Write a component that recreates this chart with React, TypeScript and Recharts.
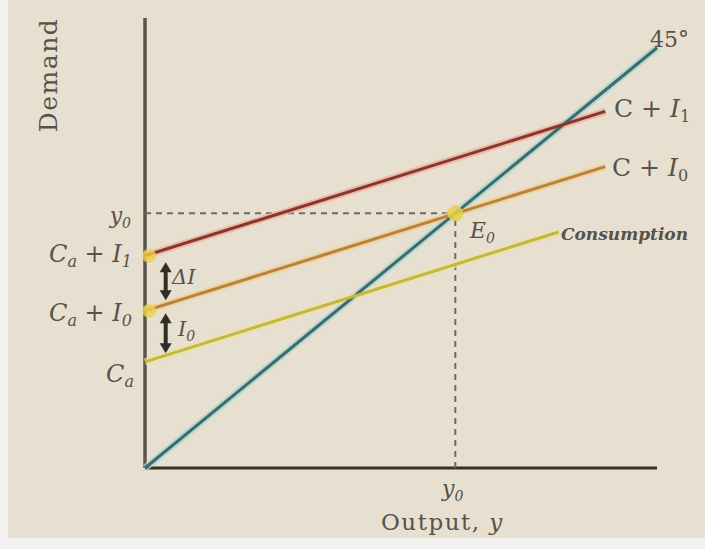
import { LineChart, Line, XAxis, YAxis, ReferenceLine, ReferenceDot } from "recharts"

// axis ranges (output on x, demand on y)
const xMax = 99
const yMax = 106

// 45° line: demand equals output
const diagonal = [
  { x: 0, y: 0 },
  { x: 99, y: 99 },
]

// aggregate demand after the rise in investment, C + I1
const demandHigh = [
  { x: 0, y: 50 },
  { x: 89, y: 84 },
]

// aggregate demand before, C + I0
const demandBase = [
  { x: 0, y: 37 },
  { x: 89, y: 71 },
]

// consumption alone
const consumption = [
  { x: 0, y: 25 },
  { x: 80, y: 55.6 },
]

// equilibrium E0 and the two intercept points
const equilibrium = { x: 60, y: 60 }
const intercepts = [50, 37]

// the two vertical gaps marked between the lines
const gapDeltaI = [
  { x: 4, y: 48 },
  { x: 4, y: 40 },
]
const gapI0 = [
  { x: 4, y: 36 },
  { x: 4, y: 27.5 },
]

const W = 705
const H = 549
const serif = "'DejaVu Serif', 'Liberation Serif', serif"
const ink = "#57524a"

const Arrow = (p: any) => {
  const { x1, y1, x2, y2 } = p
  const h = 6
  return (
    <g>
      <line x1={x1} y1={y1 + 3} x2={x2} y2={y2 - 3} stroke="#2f2d28" strokeWidth={4} />
      <polygon points={`${x1 - h},${y1 + h + 2} ${x1 + h},${y1 + h + 2} ${x1},${y1 - 2}`} fill="#2f2d28" />
      <polygon points={`${x2 - h},${y2 - h - 2} ${x2 + h},${y2 - h - 2} ${x2},${y2 + 2}`} fill="#2f2d28" />
    </g>
  )
}

export default function App() {
  const lines = [
    { key: "diag", data: diagonal, color: "#3d6a6c", halo: "#9fd6d2" },
    { key: "cons", data: consumption, color: "#c4b545", halo: "#efe39a" },
    { key: "base", data: demandBase, color: "#b8823c", halo: "#f0cf8c" },
    { key: "high", data: demandHigh, color: "#86392a", halo: "#f0a898" },
  ]
  return (
    <div style={{ position: "fixed", left: 0, top: 0, width: W, height: H, background: "#f4f2f0" }}>
      <div style={{ position: "absolute", left: 8, top: 0, width: W - 8, height: 538, background: "#e7dfcf" }} />
      <div style={{ position: "absolute", left: 0, top: 0 }}>
        <LineChart width={W} height={H} margin={{ top: 18, right: 48, bottom: 81, left: 145 }}>
          <XAxis type="number" dataKey="x" domain={[0, xMax]} hide />
          <YAxis type="number" dataKey="y" domain={[0, yMax]} hide />
          {/* axes drawn as reference lines so they sit right on the plot edges */}
          <ReferenceLine
            segment={[{ x: 0, y: 0 }, { x: xMax, y: 0 }]}
            stroke="#35322c"
            strokeWidth={3}
            ifOverflow="visible"
          />
          <ReferenceLine
            segment={[{ x: 0, y: 0 }, { x: 0, y: yMax }]}
            stroke="#5a564e"
            strokeWidth={3.5}
            ifOverflow="visible"
          />
          <ReferenceLine
            segment={[{ x: 0, y: equilibrium.y }, { x: equilibrium.x, y: equilibrium.y }]}
            stroke="#6f6a62"
            strokeWidth={2}
            strokeDasharray="6 5"
          />
          <ReferenceLine
            segment={[{ x: equilibrium.x, y: 0 }, { x: equilibrium.x, y: equilibrium.y }]}
            stroke="#6f6a62"
            strokeWidth={2}
            strokeDasharray="6 5"
          />
          {lines.map((l) => (
            <Line
              key={l.key + "-halo"}
              data={l.data}
              dataKey="y"
              type="linear"
              stroke={l.halo}
              strokeWidth={7}
              strokeOpacity={0.7}
              dot={false}
              activeDot={false}
              isAnimationActive={false}
            />
          ))}
          {lines.map((l) => (
            <Line
              key={l.key}
              data={l.data}
              dataKey="y"
              type="linear"
              stroke={l.color}
              strokeWidth={3}
              dot={false}
              activeDot={false}
              isAnimationActive={false}
            />
          ))}
          {intercepts.map((v) => (
            <ReferenceDot key={v} x={0.8} y={v} r={7} fill="#ecd24a" fillOpacity={0.8} stroke="none" />
          ))}
          <ReferenceDot x={equilibrium.x} y={equilibrium.y} r={8} fill="#e6d04a" fillOpacity={0.85} stroke="none" />
          <ReferenceLine segment={gapDeltaI} shape={(p: any) => <Arrow {...p} />} />
          <ReferenceLine segment={gapI0} shape={(p: any) => <Arrow {...p} />} />
        </LineChart>
      </div>
      <svg width={W} height={H} style={{ position: "absolute", left: 0, top: 0, pointerEvents: "none" }}>
        <g fill={ink} fontFamily={serif}>
          <text transform="translate(57,75) rotate(-90)" textAnchor="middle" fontSize={25} letterSpacing={1.5}>
            Demand
          </text>
          <text x={131} y={223} textAnchor="end" fontSize={22} fontStyle="italic">
            y<tspan dy={5} fontSize={14}>0</tspan>
          </text>
          <text x={132} y={262} textAnchor="end" fontSize={24} fontStyle="italic">
            C<tspan dy={5} fontSize={16}>a</tspan>
            <tspan dy={-5} fontStyle="normal"> + </tspan>I<tspan dy={5} fontSize={16}>1</tspan>
          </text>
          <text x={132} y={321} textAnchor="end" fontSize={24} fontStyle="italic">
            C<tspan dy={5} fontSize={16}>a</tspan>
            <tspan dy={-5} fontStyle="normal"> + </tspan>I<tspan dy={5} fontSize={16}>0</tspan>
          </text>
          <text x={134} y={382} textAnchor="end" fontSize={24} fontStyle="italic">
            C<tspan dy={5} fontSize={16}>a</tspan>
          </text>
          <text x={172} y={284} fontSize={21} fontStyle="italic">
            ΔI
          </text>
          <text x={178} y={336} fontSize={21} fontStyle="italic">
            I<tspan dy={5} fontSize={14}>0</tspan>
          </text>
          <text x={470} y={238} fontSize={22} fontStyle="italic">
            E<tspan dy={5} fontSize={14}>0</tspan>
          </text>
          <text x={614} y={117} fontSize={25}>
            C + <tspan fontStyle="italic">I</tspan><tspan dy={5} fontSize={16}>1</tspan>
          </text>
          <text x={612} y={176} fontSize={25}>
            C + <tspan fontStyle="italic">I</tspan><tspan dy={5} fontSize={16}>0</tspan>
          </text>
          <text x={561} y={240} fontSize={17} fontStyle="italic" fontWeight="bold">
            Consumption
          </text>
          <text x={650} y={47} fontSize={22}>
            45°
          </text>
          <text x={442} y={496} fontSize={22} fontStyle="italic">
            y<tspan dy={5} fontSize={14}>0</tspan>
          </text>
          <text x={381} y={530} fontSize={23} letterSpacing={1.5}>
            Output, <tspan fontStyle="italic">y</tspan>
          </text>
        </g>
      </svg>
    </div>
  )
}
